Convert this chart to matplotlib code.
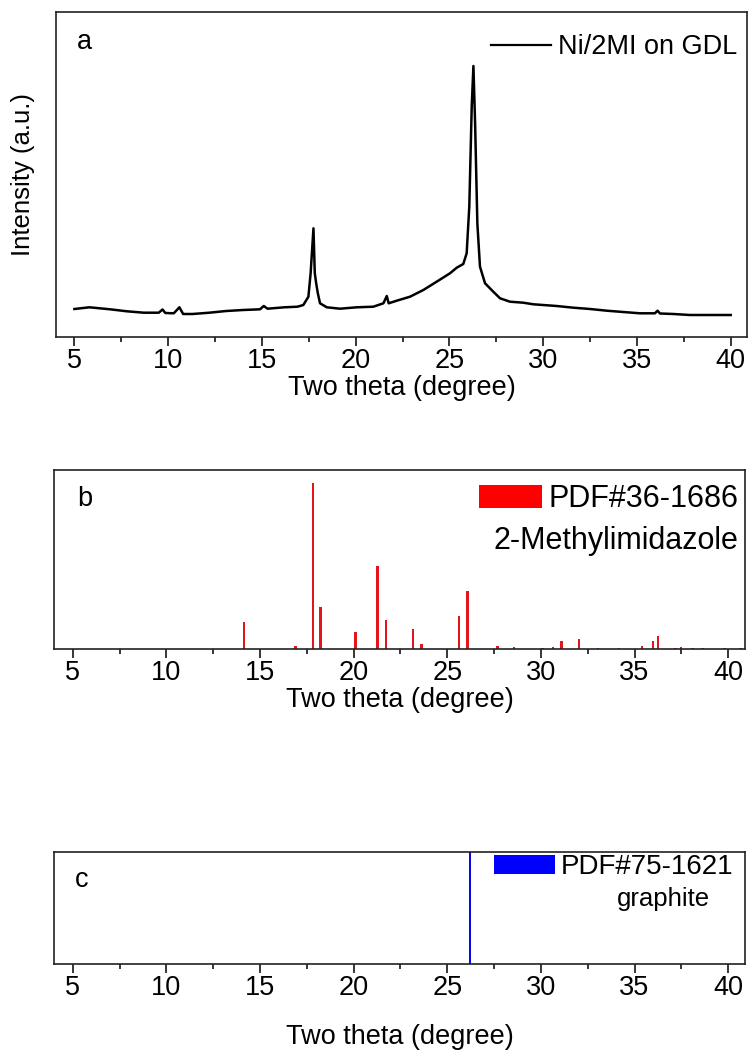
import matplotlib
matplotlib.use("Agg")
import matplotlib.pyplot as plt
from matplotlib.patches import Patch
from matplotlib.lines import Line2D
from matplotlib.ticker import MultipleLocator

plt.rcParams['font.family'] = ['Liberation Sans', 'DejaVu Sans']

# ---------------- data ----------------
# panel a: measured pattern Ni/2MI on GDL (arbitrary intensity units)
two_theta_a = [5.0, 5.8, 6.9, 7.8, 8.7, 9.5, 9.7, 9.85, 10.3, 10.6, 10.8, 11.3,
               12.2, 13.1, 14.0, 14.9, 15.1, 15.3, 16.2, 16.9, 17.21, 17.48,
               17.6, 17.75, 17.82, 17.89, 17.98, 18.1, 18.46, 19.17, 20.06,
               20.94, 21.48, 21.66, 21.76, 22.19, 22.9, 23.61, 24.32, 25.03,
               25.39, 25.74, 25.92, 26.06, 26.19, 26.28, 26.37, 26.49, 26.63,
               26.9, 27.34, 27.7, 28.23, 28.94, 29.48, 30.72, 31.61, 32.5,
               33.39, 34.27, 35.16, 35.96, 36.1, 36.23, 36.94, 37.83, 38.72, 40.0]
intensity_a = [28, 29.7, 27.7, 25.7, 24.3, 24.3, 27.5, 24, 23.7, 29.7, 23, 23,
               24.3, 26, 27, 27.7, 31, 28.3, 29.7, 30.3, 32, 40.3,
               64, 108.7, 64, 54.3, 44, 33.7, 29.7, 28.3, 29.7,
               30.3, 33.7, 41, 33.7, 36.3, 40.3, 47, 55.3, 63.7,
               69.3, 73, 83.7, 130.3, 230.3, 271, 213.7, 113.7, 70.3,
               53.7, 45.3, 38.7, 35.3, 34.3, 32.7, 31, 29.3, 28,
               26.3, 25, 23.7, 23.7, 26.3, 23.5, 23, 22, 22, 22]

# panel b: PDF#36-1686 (2-Methylimidazole) reference lines
pdf_mim_pos = [14.16, 16.89, 17.83, 18.22, 20.1, 21.28, 21.74, 23.17, 23.63,
               25.64, 26.07, 27.69, 28.55, 30.08, 30.65, 31.09, 32.03, 33.04,
               34.18, 35.4, 36.0, 36.25, 37.2, 37.47, 38.1, 38.64, 39.8, 40.66]
pdf_mim_int = [26.7, 3.2, 166, 41.7, 16.7, 83.3, 29.3, 20, 5,
               33, 57.7, 3, 1.7, 1.2, 1.7, 8.3, 10, 1.1,
               1.1, 3.3, 7.8, 13.3, 1.1, 1.7, 1.2, 1.1, 1.1, 1.1]

# panel c: PDF#75-1621 (graphite) reference line
pdf_gra_pos = [26.23]
pdf_gra_int = [1.0]

xtick_values = [5, 10, 15, 20, 25, 30, 35, 40]
xlabel_text = "Two theta (degree)"

# ---------------- layout ----------------
W, H = 750, 1053
fig = plt.figure(figsize=(W / 100, H / 100), dpi=100)
FS = 19.5


def px_axes(l, t, r, b):
    return fig.add_axes([l / W, 1 - b / H, (r - l) / W, (b - t) / H])


def style(ax, xlim, label_top_frac):
    ax.set_xlim(*xlim)
    ax.set_xticks(xtick_values)
    ax.xaxis.set_minor_locator(MultipleLocator(2.5))
    ax.set_yticks([])
    for s in ax.spines.values():
        s.set_linewidth(1.2)
        s.set_color('#222222')
    ax.tick_params(axis='x', which='major', direction='out', length=6.5,
                   width=1.1, labelsize=FS, pad=1.5, top=False)
    ax.tick_params(axis='x', which='minor', direction='out', length=3.3,
                   width=1.1, top=False)
    ax.set_xlabel(xlabel_text, fontsize=FS)
    ax.xaxis.set_label_coords(0.5, label_top_frac)


# panel a
ax_a = px_axes(56, 12, 747, 337)
ax_a.plot(two_theta_a, intensity_a, color='black', lw=1.8, label='Ni/2MI on GDL')
ax_a.set_ylim(0, 325)
style(ax_a, (4.02, 40.87), -0.118)
ax_a.set_ylabel('Intensity (a.u.)', fontsize=18.5)
ax_a.yaxis.set_label_coords(-0.03, 0.5)
ax_a.text(0.030, 0.908, 'a', transform=ax_a.transAxes, fontsize=FS,
          ha='left', va='center')
ax_a.legend(handles=[Line2D([], [], color='black', lw=1.6)],
            labels=['Ni/2MI on GDL'], loc='center right',
            bbox_to_anchor=(0.9855, 0.892), frameon=False, fontsize=FS,
            handlelength=2.2, handletextpad=0.26, borderpad=0, borderaxespad=0)

# panel b
ax_b = px_axes(54, 470, 745, 649)
ax_b.bar(pdf_mim_pos, pdf_mim_int, width=0.13, color='#e3141c', linewidth=0)
ax_b.set_ylim(0, 179)
style(ax_b, (4.0, 40.9), -0.21)
ax_b.text(0.033, 0.838, 'b', transform=ax_b.transAxes, fontsize=FS,
          ha='left', va='center')
ax_b.legend(handles=[Patch(facecolor='#ff0000', edgecolor='none')],
            labels=['PDF#36-1686'], loc='center right',
            bbox_to_anchor=(0.990, 0.838), frameon=False, fontsize=22,
            handlelength=2.05, handleheight=0.75, handletextpad=0.2,
            borderpad=0, borderaxespad=0)
ax_b.text(0.990, 0.603, '2-Methylimidazole', transform=ax_b.transAxes,
          fontsize=22, ha='right', va='center')

# panel c
ax_c = px_axes(54, 852, 745, 964)
ax_c.bar(pdf_gra_pos, pdf_gra_int, width=0.11, color='#0a0ae6', linewidth=0)
ax_c.set_ylim(0, 1)
style(ax_c, (4.0, 40.9), -0.54)
ax_c.text(0.03, 0.75, 'c', transform=ax_c.transAxes, fontsize=FS,
          ha='left', va='center')
ax_c.legend(handles=[Patch(facecolor='#0000ff', edgecolor='none')],
            labels=['PDF#75-1621'], loc='center right',
            bbox_to_anchor=(0.983, 0.865), frameon=False, fontsize=20,
            handlelength=2.2, handleheight=0.72, handletextpad=0.2,
            borderpad=0, borderaxespad=0)
ax_c.text(0.949, 0.58, 'graphite', transform=ax_c.transAxes,
          fontsize=18.5, ha='right', va='center')

fig.savefig('out.png', dpi=100)
